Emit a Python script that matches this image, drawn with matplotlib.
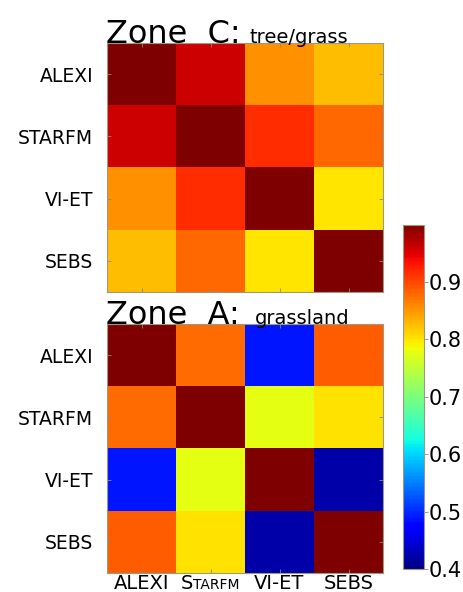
import numpy as np
import matplotlib
matplotlib.use("Agg")
import matplotlib.pyplot as plt
from matplotlib.offsetbox import TextArea, HPacker, AnnotationBbox

plt.rcParams['font.family'] = ['DejaVu Sans']

models = ["ALEXI", "STARFM", "VI-ET", "SEBS"]

zone_c = [
    [1.000, 0.958, 0.854, 0.825],
    [0.958, 1.000, 0.917, 0.879],
    [0.854, 0.917, 1.000, 0.800],
    [0.825, 0.879, 0.800, 1.000],
]
zone_a = [
    [1.000, 0.876, 0.487, 0.886],
    [0.876, 1.000, 0.777, 0.803],
    [0.487, 0.777, 1.000, 0.422],
    [0.886, 0.803, 0.422, 1.000],
]
cbar_ticks = [0.4, 0.5, 0.6, 0.7, 0.8, 0.9]
vmin, vmax = 0.4, 1.0

W, H = 464, 592
fig = plt.figure(figsize=(W / 100, H / 100), dpi=100)

def fx(px):
    return px / W

def fy(py):
    return 1 - py / H

edge = "#9a9a80"

def heat(ax, data):
    im = ax.imshow(np.array(data), cmap="jet", vmin=vmin, vmax=vmax,
                   aspect="auto", interpolation="nearest")
    ax.set_yticks(range(len(models)))
    ax.set_yticklabels(models, fontsize=13.5)
    ax.set_xticks(range(len(models)))
    ax.tick_params(axis="both", direction="in", length=3, width=0.6,
                   color="#888888", top=True, right=True, pad=10)
    for s in ax.spines.values():
        s.set_color(edge)
        s.set_linewidth(0.8)
    return im

ax1 = fig.add_axes([fx(107), fy(292), fx(383) - fx(107), fy(43) - fy(292)])
heat(ax1, zone_c)
ax1.set_xticklabels([])

ax2 = fig.add_axes([fx(107), fy(573), fx(383) - fx(107), fy(324) - fy(573)])
im = heat(ax2, zone_a)
ax2.set_xticklabels([])

# x labels below bottom heatmap (STARFM in small caps)
for i, m in enumerate(models):
    if m == "STARFM":
        box = HPacker(children=[TextArea("S", textprops=dict(fontsize=14)),
                                TextArea("TARFM", textprops=dict(fontsize=10))],
                      align="baseline", pad=0, sep=0)
    else:
        box = TextArea(m, textprops=dict(fontsize=14))
    ab = AnnotationBbox(box, (i, 0.0), xycoords=ax2.get_xaxis_transform(),
                        box_alignment=(0.5, 1.0), xybox=(0, -1),
                        boxcoords="offset points", frameon=False, pad=0)
    ax2.add_artist(ab)

# titles
fig.text(fx(106), fy(43), "Zone  C:", fontsize=23, ha="left", va="baseline")
fig.text(fx(250), fy(43), "tree/grass", fontsize=14, ha="left", va="baseline")
fig.text(fx(106), fy(324), "Zone  A:", fontsize=23, ha="left", va="baseline")
fig.text(fx(255), fy(324), "grassland", fontsize=14, ha="left", va="baseline")

cax = fig.add_axes([fx(403), fy(569), fx(424) - fx(403), fy(224.5) - fy(569)])
cb = fig.colorbar(im, cax=cax, ticks=cbar_ticks)
cb.ax.set_yticklabels([f"{t:.1f}" for t in cbar_ticks], fontsize=15)
cb.ax.tick_params(length=3, width=0.6, color="#888888", pad=0)
cb.outline.set_edgecolor(edge)
cb.outline.set_linewidth(0.8)

fig.savefig("out.png", dpi=100)
